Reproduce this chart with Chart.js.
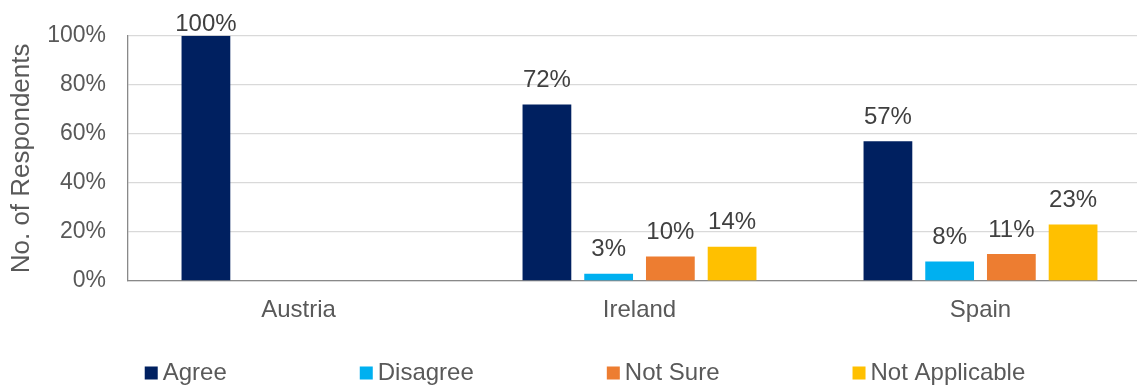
<!DOCTYPE html>
<html>
<head>
<meta charset="utf-8">
<script src="https://cdn.jsdelivr.net/npm/chart.js@4/dist/chart.umd.min.js"></script>
<style>
  html, body { margin: 0; padding: 0; background: #fff; overflow: hidden; }
  /* reference is cropped on the right, so the chart runs a bit past the window */
  #wrap { width: 1170px; height: 385px; }
</style>
</head>
<body>
<div id="wrap"><canvas id="chart"></canvas></div>
<script>
// Data
const categories = ["Austria", "Ireland", "Spain"];
const agree = [100, 72, 57];
const disagree = [0, 3, 8];
const notSure = [0, 10, 11];
const notApplicable = [0, 14, 23];
const yTicks = [0, 20, 40, 60, 80, 100];

const FONT = "'Liberation Sans', Arial, sans-serif";
Chart.defaults.font.family = FONT;
Chart.defaults.color = "#595959";

// Value labels above bars
const barLabels = {
  id: "barLabels",
  afterDatasetsDraw(chart) {
    const ctx = chart.ctx;
    ctx.save();
    ctx.font = "24px " + FONT;
    ctx.fillStyle = "#404040";
    ctx.textAlign = "center";
    ctx.textBaseline = "middle";
    chart.data.datasets.forEach((ds, i) => {
      chart.getDatasetMeta(i).data.forEach((bar, j) => {
        const v = ds.data[j];
        if (!v) return;
        ctx.fillText(v + "%", bar.x, Math.max(bar.y - 24, 24.5));
      });
    });
    ctx.restore();
  }
};

// Legend row at the bottom
const bottomLegend = {
  id: "bottomLegend",
  afterDraw(chart) {
    const ctx = chart.ctx;
    const gap = 133;
    ctx.save();
    ctx.font = "24px " + FONT;
    const items = chart.data.datasets.map(ds => ({
      label: ds.label,
      color: ds.backgroundColor,
      w: 13 + 5 + ctx.measureText(ds.label).width
    }));
    const total = items.reduce((s, it) => s + it.w, 0) + gap * (items.length - 1);
    let x = chart.width / 2 - total / 2;
    ctx.textBaseline = "middle";
    ctx.textAlign = "left";
    items.forEach(it => {
      ctx.fillStyle = it.color;
      ctx.fillRect(x, 366.5, 13, 13);
      ctx.fillStyle = "#595959";
      ctx.fillText(it.label, x + 18, 373);
      x += it.w + gap;
    });
    ctx.restore();
  }
};

new Chart(document.getElementById("chart"), {
  type: "bar",
  data: {
    labels: categories,
    datasets: [
      { label: "Agree", data: agree, backgroundColor: "#002060" },
      { label: "Disagree", data: disagree, backgroundColor: "#00B0F0" },
      { label: "Not Sure", data: notSure, backgroundColor: "#ED7D31" },
      { label: "Not Applicable", data: notApplicable, backgroundColor: "#FFC000" }
    ]
  },
  options: {
    responsive: true,
    maintainAspectRatio: false,
    animation: false,
    datasets: { bar: { barPercentage: 0.79, categoryPercentage: 0.724 } },
    layout: { padding: { left: 2, right: 19, top: 35, bottom: 46 } },
    plugins: {
      legend: { display: false },
      tooltip: { enabled: false }
    },
    scales: {
      x: {
        grid: { display: false, drawTicks: false, tickLength: 0 },
        border: { display: true, color: "#898989", width: 1.3 },
        ticks: { font: { size: 24 }, color: "#595959", padding: 14.6 }
      },
      y: {
        min: 0,
        max: 100,
        afterFit: s => { s.width = 126; },
        afterBuildTicks: s => { s.ticks = yTicks.map(v => ({ value: v })); },
        grid: { color: "#D9D9D9", lineWidth: 1.3, drawTicks: false, tickLength: 0 },
        border: { display: true, color: "#898989", width: 1.3 },
        ticks: {
          font: { size: 23 },
          color: "#595959",
          padding: 22,
          callback: v => v + "%"
        },
        title: {
          display: true,
          text: "No. of Respondents",
          font: { size: 26 },
          color: "#595959",
          padding: { top: 4, bottom: 4 }
        }
      }
    }
  },
  plugins: [barLabels, bottomLegend]
});
</script>
</body>
</html>
